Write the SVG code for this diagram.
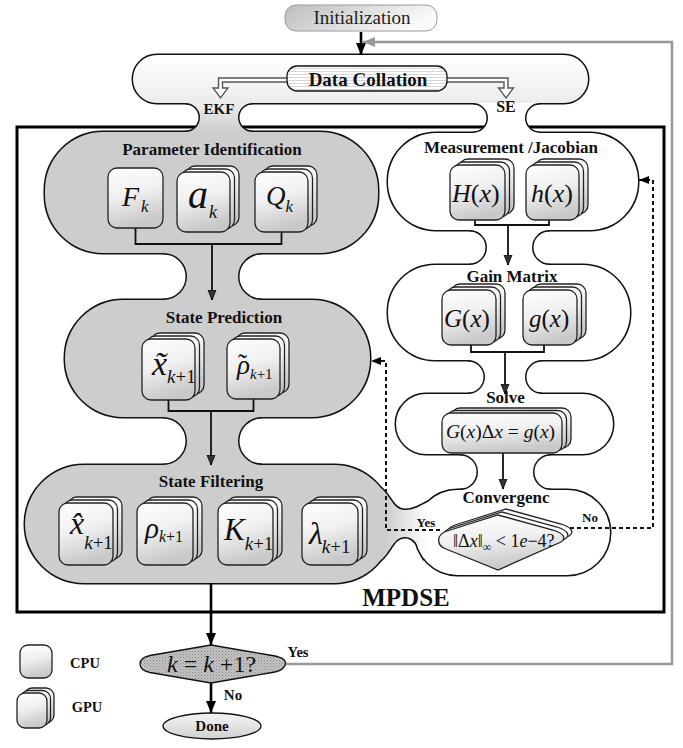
<svg xmlns="http://www.w3.org/2000/svg" width="683" height="748" viewBox="0 0 683 748">
<defs>
<style>
.bs{fill:none;stroke:#111;stroke-width:3}
.card{fill:url(#cardG);stroke:#222;stroke-width:1.3}
.lbl{font-family:"Liberation Serif","Times New Roman",serif;font-weight:bold;fill:#111;text-anchor:middle}
.m{font-family:"Liberation Serif","Times New Roman",serif;font-style:italic;fill:#111}
.u{font-style:normal}
.conn{fill:none;stroke:#111;stroke-width:1.8}
.thick{fill:none;stroke:#000;stroke-width:2.6}
.dash{fill:none;stroke:#111;stroke-width:2;stroke-dasharray:4 3}
</style>
<linearGradient id="cardG" x1="0" y1="0" x2="0.25" y2="1">
<stop offset="0" stop-color="#ffffff"/><stop offset="0.5" stop-color="#f0f0f0"/><stop offset="1" stop-color="#c9c9c9"/>
</linearGradient>
<linearGradient id="initG" x1="0" y1="0" x2="1" y2="0.3">
<stop offset="0" stop-color="#bdbdbd"/><stop offset="1" stop-color="#fafafa"/>
</linearGradient>
<linearGradient id="topG" gradientUnits="userSpaceOnUse" x1="0" y1="55" x2="0" y2="103">
<stop offset="0" stop-color="#ffffff"/><stop offset="1" stop-color="#ececec"/>
</linearGradient>
<linearGradient id="ekfG" gradientUnits="userSpaceOnUse" x1="0" y1="103" x2="0" y2="132">
<stop offset="0" stop-color="#eeeeee"/><stop offset="1" stop-color="#cdcdcd"/>
</linearGradient>
<linearGradient id="hG" gradientUnits="userSpaceOnUse" x1="386" y1="0" x2="428" y2="0">
<stop offset="0" stop-color="#cdcdcd"/><stop offset="1" stop-color="#ffffff"/>
</linearGradient>
<linearGradient id="doneG" x1="0" y1="0" x2="0" y2="1">
<stop offset="0" stop-color="#f4f4f4"/><stop offset="1" stop-color="#d2d2d2"/>
</linearGradient>
<pattern id="stripes" width="4" height="3" patternUnits="userSpaceOnUse">
<rect width="4" height="3" fill="#ffffff"/><rect y="2" width="4" height="1" fill="#d6d6d6"/>
</pattern>
<pattern id="dots" width="3" height="3" patternUnits="userSpaceOnUse">
<rect width="3" height="3" fill="#c2c2c2"/><rect width="1" height="1" fill="#8c8c8c"/><rect x="1.5" y="1.5" width="1" height="1" fill="#a0a0a0"/>
</pattern>
<marker id="ahBig" markerUnits="userSpaceOnUse" markerWidth="12" markerHeight="12" viewBox="0 0 12 12" refX="12" refY="6" orient="auto">
<path d="M0,1 L12,6 L0,11 Z" fill="#000"/>
</marker>
<marker id="ahSm" markerUnits="userSpaceOnUse" markerWidth="10" markerHeight="10" viewBox="0 0 10 10" refX="10" refY="5" orient="auto">
<path d="M0,1 L10,5 L0,9 Z" fill="#333" stroke="#000" stroke-width="0.8"/>
</marker>
<marker id="ahDash" markerUnits="userSpaceOnUse" markerWidth="10" markerHeight="10" viewBox="0 0 10 10" refX="10" refY="5" orient="auto">
<path d="M0,1 L10,5 L0,9 Z" fill="#000"/>
</marker>
<marker id="ahGray" markerUnits="userSpaceOnUse" markerWidth="12" markerHeight="12" viewBox="0 0 12 12" refX="12" refY="6" orient="auto">
<path d="M0,1 L12,6 L0,11 Z" fill="#999"/>
</marker>
<rect id="sTop" x="133" y="55" width="455" height="48" rx="24"/>
<path id="sNekf" d="M185.5,103 A14.5,14.5 0 0 1 185.5,132 L252.5,132 A14.5,14.5 0 0 1 252.5,103 Z"/>
<path id="sNse" d="M473,103 A15,15 0 0 1 473,133 L540,133 A15,15 0 0 1 540,103 Z"/>
<rect id="sPI" x="45" y="132" width="333" height="121" rx="58"/>
<path id="sN1" d="M163.5,253 A23.5,23.5 0 0 1 163.5,300 L261.5,300 A23.5,23.5 0 0 1 261.5,253 Z"/>
<rect id="sSP" x="65" y="300" width="305" height="117" rx="58"/>
<path id="sN2" d="M163,417 A24,24 0 0 1 163,465 L262,465 A24,24 0 0 1 262,417 Z"/>
<rect id="sSF" x="25" y="465" width="368" height="118" rx="59"/>
<path id="sNh" d="M380.7,488 C391,496 393,510 405,510 C415,510 421,505 427.9,502 L445,532 L423.5,558 C420,548 415,537 405,537 C393,537 391,552 380.7,560 L355,524 Z"/>
<rect id="sMJ" x="388" y="133" width="250" height="97" rx="48"/>
<path id="sN3" d="M469.5,230 A17.5,17.5 0 0 1 469.5,265 L549.5,265 A17.5,17.5 0 0 1 549.5,230 Z"/>
<rect id="sGM" x="388" y="265" width="242" height="95" rx="47"/>
<path id="sN4" d="M468,360 A17,17 0 0 1 468,394 L542,394 A17,17 0 0 1 542,360 Z"/>
<rect id="sSV" x="396" y="394" width="217" height="60" rx="30"/>
<path id="sN5" d="M460,454 A18,18 0 0 1 460,490 L551,490 A18,18 0 0 1 551,454 Z"/>
<rect id="sCV" x="415" y="490" width="195" height="85" rx="42.5"/>
<path id="dia" d="M447,531 L498,515 L553,530 C563,533 567,538 561,542 L498,570 L446,549 C437,546 435,535 447,531 Z"/>
</defs>

<rect width="683" height="748" fill="#ffffff"/>

<!-- main frame -->
<g id="frame-mpdse">
<rect x="17" y="127" width="647" height="485" fill="none" stroke="#000" stroke-width="3"/>
<text class="lbl" x="406" y="606" font-size="25">MPDSE</text>
</g>

<!-- container outlines (union by stroke then fill) -->
<g id="containers">
<g id="container-strokes" class="bs">
<use href="#sTop"/><use href="#sNekf"/><use href="#sNse"/>
<use href="#sPI"/><use href="#sN1"/><use href="#sSP"/><use href="#sN2"/><use href="#sSF"/>
<use href="#sMJ"/><use href="#sN3"/><use href="#sGM"/><use href="#sN4"/><use href="#sSV"/><use href="#sN5"/><use href="#sCV"/>
<use href="#sNh"/>
</g>
<g id="container-fills">
<use href="#sTop" fill="url(#topG)"/>
<use href="#sNekf" fill="url(#ekfG)"/>
<use href="#sNse" fill="#ffffff"/>
<use href="#sPI" fill="#cdcdcd"/><use href="#sN1" fill="#cdcdcd"/><use href="#sSP" fill="#cdcdcd"/><use href="#sN2" fill="#cdcdcd"/><use href="#sSF" fill="#cdcdcd"/>
<use href="#sMJ" fill="#ffffff"/><use href="#sN3" fill="#ffffff"/><use href="#sGM" fill="#ffffff"/><use href="#sN4" fill="#ffffff"/><use href="#sSV" fill="#ffffff"/><use href="#sN5" fill="#ffffff"/><use href="#sCV" fill="#ffffff"/>
<use href="#sNh" fill="url(#hG)"/>
</g>
</g>

<!-- connectors -->
<g id="connectors">
<path class="thick" d="M361,32 V55" marker-end="url(#ahBig)"/>
<path d="M284,664 H672 V42 H363" fill="none" stroke="#999" stroke-width="2.6" marker-end="url(#ahGray)"/>
<path d="M287,80 H220.5 V89" fill="none" stroke="#555" stroke-width="5.4"/>
<path d="M447,80 H506 V89" fill="none" stroke="#555" stroke-width="5.4"/>
<polygon points="213,88 228,88 220.5,98" fill="#fff" stroke="#555" stroke-width="1.3"/>
<polygon points="498.5,88 513.5,88 506,98" fill="#fff" stroke="#555" stroke-width="1.3"/>
<path d="M290,80 H220.5 V90" fill="none" stroke="#fff" stroke-width="2.6"/>
<path d="M444,80 H506 V90" fill="none" stroke="#fff" stroke-width="2.6"/>
<path class="conn" d="M135.5,228 V244 H281.5 V232"/>
<path class="conn" d="M212,244 V300" marker-end="url(#ahSm)"/>
<path class="conn" d="M168.5,400 V411 H253.5 V399"/>
<path class="conn" d="M211,411 V465" marker-end="url(#ahSm)"/>
<path class="conn" d="M475,220 V225 H549 V220" stroke-width="1.5"/>
<path class="conn" d="M508,225 V265" stroke-width="1.5" marker-end="url(#ahSm)"/>
<path class="conn" d="M471,345 V352 H544 V345" stroke-width="1.5"/>
<path class="conn" d="M505,352 V394" stroke-width="1.5" marker-end="url(#ahSm)"/>
<path class="conn" d="M503,453 V489" stroke-width="1.5" marker-end="url(#ahSm)"/>
<path class="dash" d="M563,528 H653 V180 H639" marker-end="url(#ahDash)"/>
<path class="dash" d="M440,530 H386 V361 H371" marker-end="url(#ahDash)"/>
<path class="thick" d="M211,583 V645" marker-end="url(#ahBig)"/>
<path class="thick" d="M211,683 V713" marker-end="url(#ahBig)"/>
</g>

<!-- top -->
<g id="node-initialization">
<rect x="285" y="5" width="152" height="26" rx="11" fill="url(#initG)" stroke="#9a9a9a" stroke-width="1"/>
<text x="362" y="24" font-family="Liberation Serif, serif" font-size="19" fill="#222" text-anchor="middle">Initialization</text>
</g>
<g id="node-data-collation">
<rect x="287" y="66" width="160" height="25" rx="10" fill="url(#stripes)" stroke="#111" stroke-width="1.3"/>
<text class="lbl" x="368" y="85.5" font-size="19">Data Collation</text>
<text class="lbl" x="219" y="114" font-size="15">EKF</text>
<text class="lbl" x="506" y="112" font-size="16">SE</text>
</g>

<!-- Parameter Identification -->
<g id="node-parameter-identification">
<text class="lbl" x="212" y="155" font-size="17">Parameter Identification</text>
</g>
<g id="node-Fk">
<rect class="card" x="108" y="168" width="55" height="60" rx="9"/>
<text class="m" x="122" y="206" font-size="28">F<tspan font-size="17" dx="2" dy="6">k</tspan></text>
</g>
<g id="node-ak">
<rect class="card" x="186" y="166" width="53" height="60" rx="9"/>
<rect class="card" x="181.5" y="169" width="53" height="60" rx="9"/>
<rect class="card" x="177" y="172" width="53" height="60" rx="9"/>
<text class="m" x="188" y="208" font-size="40">a<tspan font-size="18" dx="1" dy="10">k</tspan></text>
</g>
<g id="node-Qk">
<rect class="card" x="264" y="166" width="53" height="60" rx="9"/>
<rect class="card" x="259.5" y="169" width="53" height="60" rx="9"/>
<rect class="card" x="255" y="172" width="53" height="60" rx="9"/>
<text class="m" x="266" y="205" font-size="27">Q<tspan font-size="17" dx="0" dy="7">k</tspan></text>
</g>

<!-- State Prediction -->
<g id="node-state-prediction">
<text class="lbl" x="224" y="323" font-size="17">State Prediction</text>
</g>
<g id="node-xtilde">
<rect class="card" x="151" y="333" width="53" height="61" rx="9"/>
<rect class="card" x="146.5" y="336" width="53" height="61" rx="9"/>
<rect class="card" x="142" y="339" width="53" height="61" rx="9"/>
<text class="m" x="152" y="375" font-size="34">x&#x303;<tspan font-size="19" dy="8">k</tspan><tspan class="u" font-size="19">+1</tspan></text>
</g>
<g id="node-rhotilde">
<rect class="card" x="236" y="333" width="53" height="60" rx="9"/>
<rect class="card" x="231.5" y="336" width="53" height="60" rx="9"/>
<rect class="card" x="227" y="339" width="53" height="60" rx="9"/>
<text class="m" x="237" y="374" font-size="27">ρ<tspan class="u" dx="-12" dy="-1">˜</tspan><tspan font-size="15" dx="3" dy="6">k</tspan><tspan class="u" font-size="15">+1</tspan></text>
</g>

<!-- State Filtering -->
<g id="node-state-filtering">
<text class="lbl" x="211" y="487" font-size="17">State Filtering</text>
</g>
<g id="node-xhat">
<rect class="card" x="68" y="497" width="54" height="62" rx="9"/>
<rect class="card" x="63.5" y="500" width="54" height="62" rx="9"/>
<rect class="card" x="59" y="503" width="54" height="62" rx="9"/>
<text class="m" x="70" y="534" font-size="32">x&#x302;<tspan font-size="19" dy="15">k</tspan><tspan class="u" font-size="19">+1</tspan></text>
</g>
<g id="node-rho">
<rect class="card" x="146" y="497" width="56" height="62" rx="9"/>
<rect class="card" x="141.5" y="500" width="56" height="62" rx="9"/>
<rect class="card" x="137" y="503" width="56" height="62" rx="9"/>
<text class="m" x="145" y="538" font-size="29">ρ<tspan font-size="16" dy="4">k</tspan><tspan class="u" font-size="16">+1</tspan></text>
</g>
<g id="node-K">
<rect class="card" x="227" y="497" width="55" height="62" rx="9"/>
<rect class="card" x="222.5" y="500" width="55" height="62" rx="9"/>
<rect class="card" x="218" y="503" width="55" height="62" rx="9"/>
<text class="m" x="224" y="540" font-size="31">K<tspan font-size="19" dy="10">k</tspan><tspan class="u" font-size="19">+1</tspan></text>
</g>
<g id="node-lambda">
<rect class="card" x="311" y="497" width="56" height="62" rx="9"/>
<rect class="card" x="306.5" y="500" width="56" height="62" rx="9"/>
<rect class="card" x="302" y="503" width="56" height="62" rx="9"/>
<text class="m" x="309" y="544" font-size="32">λ<tspan font-size="19" dx="-1" dy="9">k</tspan><tspan class="u" font-size="19">+1</tspan></text>
</g>

<!-- Measurement / Jacobian -->
<g id="node-measurement-jacobian">
<text class="lbl" x="511" y="153" font-size="17">Measurement /Jacobian</text>
</g>
<g id="node-Hx">
<rect class="card" x="459" y="159" width="55" height="55" rx="9"/>
<rect class="card" x="454.5" y="162" width="55" height="55" rx="9"/>
<rect class="card" x="450" y="165" width="55" height="55" rx="9"/>
<text class="m" x="452" y="202" font-size="26">H<tspan class="u">(</tspan>x<tspan class="u">)</tspan></text>
</g>
<g id="node-hx">
<rect class="card" x="535" y="159" width="53" height="55" rx="9"/>
<rect class="card" x="530.5" y="162" width="53" height="55" rx="9"/>
<rect class="card" x="526" y="165" width="53" height="55" rx="9"/>
<text class="m" x="531" y="202" font-size="26">h<tspan class="u">(</tspan>x<tspan class="u">)</tspan></text>
</g>

<!-- Gain Matrix -->
<g id="node-gain-matrix">
<text class="lbl" x="512" y="282" font-size="17">Gain Matrix</text>
</g>
<g id="node-Gx">
<rect class="card" x="451" y="284" width="54" height="55" rx="9"/>
<rect class="card" x="446.5" y="287" width="54" height="55" rx="9"/>
<rect class="card" x="442" y="290" width="54" height="55" rx="9"/>
<text class="m" x="444" y="327" font-size="25">G<tspan class="u">(</tspan>x<tspan class="u">)</tspan></text>
</g>
<g id="node-gx">
<rect class="card" x="532" y="284" width="54" height="55" rx="9"/>
<rect class="card" x="527.5" y="287" width="54" height="55" rx="9"/>
<rect class="card" x="523" y="290" width="54" height="55" rx="9"/>
<text class="m" x="529" y="327" font-size="25">g<tspan class="u">(</tspan>x<tspan class="u">)</tspan></text>
</g>

<!-- Solve -->
<g id="node-solve">
<text class="lbl" x="505.5" y="403" font-size="17">Solve</text>
<rect class="card" x="451" y="408" width="120" height="40" rx="9"/>
<rect class="card" x="446.5" y="410.5" width="120" height="40" rx="9"/>
<rect class="card" x="442" y="413" width="120" height="40" rx="9"/>
<text class="m" x="446" y="438" font-size="19.5">G<tspan class="u">(</tspan>x<tspan class="u">)Δ</tspan>x<tspan class="u"> = </tspan>g<tspan class="u">(</tspan>x<tspan class="u">)</tspan></text>
</g>

<!-- Convergence -->
<g id="node-convergence">
<text class="lbl" x="506" y="503" font-size="17">Convergenc</text>
<use href="#dia" transform="translate(8,-6)" fill="#fafafa" stroke="#222" stroke-width="1.3"/>
<use href="#dia" transform="translate(4,-3)" fill="#fafafa" stroke="#222" stroke-width="1.3"/>
<use href="#dia" fill="url(#cardG)" stroke="#222" stroke-width="1.3"/>
<text class="m" x="453" y="547" font-size="18"><tspan class="u">‖Δ</tspan>x<tspan class="u">‖</tspan><tspan class="u" font-size="12" dy="4">∞</tspan><tspan class="u" dy="-4"> &lt; 1</tspan>e<tspan class="u">−4?</tspan></text>
<text class="lbl" x="426" y="527" font-size="13">Yes</text>
<text class="lbl" x="590" y="522" font-size="13">No</text>
</g>

<!-- loop decision -->
<g id="node-k-decision">
<path d="M150,655.5 L211,645 L272,655.5 C284,657.5 288,661 284,667 C281,671 276,672 272,672.5 L211,683 L150,672.5 C143,671 140,668 140,664 C140,660 143,657 150,655.5 Z" fill="url(#dots)" stroke="#111" stroke-width="1.3"/>
<text class="m" x="167" y="672" font-size="24" fill="#333">k<tspan class="u"> = </tspan>k<tspan class="u"> +1?</tspan></text>
<text class="lbl" x="298" y="657" font-size="14.5">Yes</text>
<text class="lbl" x="233" y="700" font-size="15">No</text>
</g>
<g id="node-done">
<ellipse cx="212" cy="726" rx="49" ry="13" fill="url(#doneG)" stroke="#111" stroke-width="1.3"/>
<text class="lbl" x="212" y="731" font-size="15" fill="#555">Done</text>
</g>

<!-- legend -->
<g id="legend-cpu">
<rect class="card" x="20" y="645" width="32" height="33" rx="8"/>
<text class="lbl" x="85" y="668" font-size="14.5">CPU</text>
</g>
<g id="legend-gpu">
<rect class="card" x="24" y="688" width="30" height="35" rx="8"/>
<rect class="card" x="20.5" y="690.5" width="30" height="35" rx="8"/>
<rect class="card" x="17" y="693" width="30" height="35" rx="8"/>
<text class="lbl" x="87" y="712" font-size="14.5">GPU</text>
</g>
</svg>
